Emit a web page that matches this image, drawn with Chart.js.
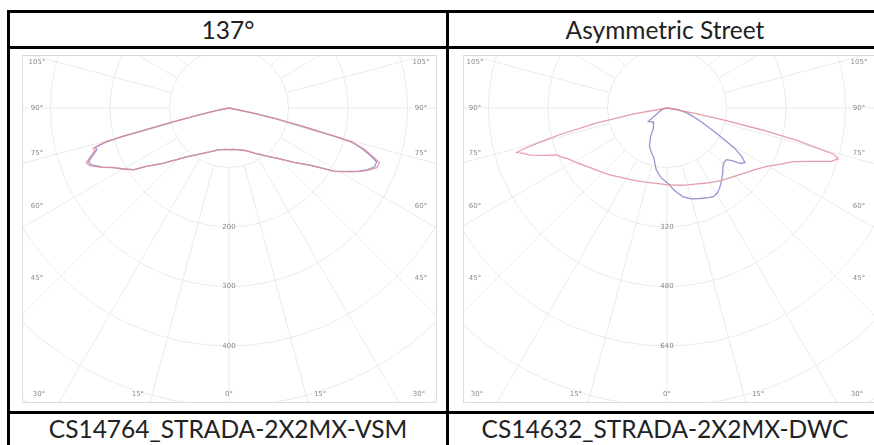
<!DOCTYPE html>
<html>
<head>
<meta charset="utf-8">
<script src="https://cdn.jsdelivr.net/npm/chart.js@4.4.1/dist/chart.umd.min.js"></script>
<style>
  html, body { margin: 0; padding: 0; background: #fff; }
  body { width: 874px; height: 445px; overflow: hidden; position: relative; font-family: Lato, 'Open Sans', sans-serif; }
  .rule { position: absolute; background: #000; }
  .txt { position: absolute; text-align: center; color: #222; font-size: 24.5px; line-height: 24.5px; white-space: nowrap; }
  .plot { position: absolute; box-sizing: border-box; border: 1px solid #dcdcdc; background: #fff; overflow: hidden; }
  .plot div { position: relative; width: 100%; height: 100%; }
</style>
</head>
<body>
  <!-- table rules -->
  <div class="rule" style="left:7px; top:10px; width:880px; height:3px"></div>
  <div class="rule" style="left:7px; top:46px; width:880px; height:3px"></div>
  <div class="rule" style="left:7px; top:411px; width:880px; height:3px"></div>
  <div class="rule" style="left:7px; top:10px; width:3px; height:440px"></div>
  <div class="rule" style="left:446px; top:10px; width:3px; height:440px"></div>

  <div class="txt" style="left:10px; top:17.5px; width:436px">137°</div>
  <div class="txt" style="left:449px; top:17.5px; width:432px">Asymmetric Street</div>
  <div class="txt" style="left:10px; top:416.5px; width:436px">CS14764_STRADA-2X2MX-VSM</div>
  <div class="txt" style="left:449px; top:416.5px; width:432px">CS14632_STRADA-2X2MX-DWC</div>

  <div class="plot" style="left:22px; top:55px; width:415px; height:348px"><div><canvas id="polarLeft"></canvas></div></div>
  <div class="plot" style="left:463px; top:55px; width:414px; height:348px"><div><canvas id="polarRight"></canvas></div></div>

<script>
// photometric angle ticks (degrees from nadir)
const angleTicks = [0, 15, 30, 45, 60, 75, 90, 105];

// 137° optic, cd values
const leftRings = [100, 200, 300, 400, 500, 600];
const leftRingLabels = ['', '200', '300', '400', '', ''];
const leftAngles = [-80, -78, -77, -76, -75, -74.5, -73.5, -72.5, -71, -69, -67.5, -65, -63, -60, -57, -55, -50, -45, -40, -35,
  -30, -25, -20, -15, -10, -5, 0, 5, 10, 15, 20, 25, 30, 35, 40, 45, 50, 55, 59, 62,
  64, 66, 68, 70, 71.5, 73, 74.5, 75, 76, 77, 78, 80];
const leftC0 = [0, 22, 50, 100, 190, 218, 238, 236, 245, 257, 253, 236, 221, 205, 191, 172, 145, 122, 106, 96,
  88, 82, 77, 73, 71, 70, 70, 70, 71, 73, 76, 81, 88, 96, 107, 121, 142, 168, 207, 229,
  244, 257, 268, 269, 254, 238, 216, 186, 128, 80, 42, 0];
const leftC90 = [0, 22, 50, 100, 188, 216, 234, 233, 241, 253, 250, 235, 220, 205, 190, 172, 145, 122, 106, 96,
  88, 82, 77, 73, 71, 70, 70, 70, 71, 73, 76, 81, 88, 96, 107, 121, 142, 168, 206, 227,
  242, 255, 264, 264, 250, 234, 214, 184, 127, 80, 42, 0];

// asymmetric street optic
const rightRings = [160, 320, 480, 640, 800, 960];
const rightRingLabels = ['', '320', '480', '640', '', ''];
const rightC0Angles = [-82, -80, -78, -76, -75, -74, -73.5, -72.5, -71, -69, -67, -65, -63, -60, -55, -50, -45, -40, -35, -30,
  -25, -20, -15, -10, -5, 0, 5, 10, 15, 20, 25, 30, 35, 40, 45, 50, 55, 60, 63, 67,
  70, 72, 73.5, 74.5, 76, 77, 78, 79, 80];
const rightC0 = [0, 90, 195, 300, 350, 405, 421, 405, 389, 355, 322, 312, 300, 288, 270, 256, 245, 236, 226, 219,
  214, 210, 207, 205, 205, 206, 208, 211, 214, 218, 224, 232, 240, 249, 259, 272, 289, 313, 335, 369,
  420, 465, 480, 465, 360, 260, 160, 80, 0];
const rightC90Angles = [-90, -75, -65, -58, -54, -50, -45, -40, -35, -30, -25, -20, -15, -10, -5, 0, 5, 10, 15, 20,
  25, 28, 31, 34, 37, 40, 43, 46, 49, 51, 53, 55, 57, 59, 61, 64, 68, 72, 76, 82, 90];
const rightC90 = [0, 12, 22, 38, 62, 58, 52, 55, 65, 88, 112, 125, 138, 168, 188, 200, 222, 242, 253, 259,
  266, 269, 265, 255, 244, 232, 220, 212, 212, 225, 248, 256, 240, 215, 180, 135, 100, 75, 55, 28, 0];

const RED = 'rgba(226, 140, 156, 0.85)';
const BLUE = 'rgba(134, 130, 200, 0.85)';

function toXY(angles, values) {
  return angles.map((a, i) => {
    const t = a * Math.PI / 180;
    return { x: values[i] * Math.sin(t), y: values[i] * Math.cos(t) };
  });
}

// grid circles, spokes and labels around the luminaire centre
const polarGrid = {
  id: 'polarGrid',
  beforeDatasetsDraw(chart, args, opts) {
    const { ctx, chartArea: a, scales: { x, y } } = chart;
    const cx = x.getPixelForValue(0), cy = y.getPixelForValue(0);
    const k = Math.abs(x.getPixelForValue(1) - cx);
    ctx.save();
    ctx.beginPath();
    ctx.rect(a.left, a.top, a.width, a.height);
    ctx.clip();
    ctx.strokeStyle = '#ebebeb';
    ctx.lineWidth = 1;
    opts.rings.forEach(v => {
      ctx.beginPath();
      ctx.arc(cx, cy, v * k, 0, Math.PI * 2);
      ctx.stroke();
    });
    const r0 = opts.rings[0] * k;
    for (let g = 0; g < 360; g += 15) {
      const s = Math.sin(g * Math.PI / 180), c = Math.cos(g * Math.PI / 180);
      ctx.beginPath();
      ctx.moveTo(cx + r0 * s, cy + r0 * c);
      ctx.lineTo(cx + 1000 * s, cy + 1000 * c);
      ctx.stroke();
    }

    ctx.fillStyle = '#8a8a8a';
    ctx.font = '7px "DejaVu Sans", sans-serif';
    ctx.textAlign = 'center';
    ctx.textBaseline = 'middle';
    opts.rings.forEach((v, i) => {
      if (opts.ringLabels[i]) ctx.fillText(opts.ringLabels[i], cx, cy + v * k);
    });
    angleTicks.forEach(g => {
      const t = g * Math.PI / 180;
      if (g >= 45) {
        const yy = cy + 170 * Math.cos(t) / Math.sin(t);
        ctx.fillText(g + '°', cx - 192, yy);
        ctx.fillText(g + '°', cx + 192, yy);
      } else {
        const dx = Math.min(340 * Math.tan(t), 190);
        ctx.fillText(g + '°', cx - dx, cy + 286);
        if (g > 0) ctx.fillText(g + '°', cx + dx, cy + 286);
      }
    });
    ctx.restore();
  }
};

function makePanel(id, centre, pxPerCd, rings, ringLabels, series) {
  const canvas = document.getElementById(id);
  const box = canvas.parentNode.getBoundingClientRect();
  const W = box.width, H = box.height;
  return new Chart(canvas, {
    type: 'scatter',
    data: {
      datasets: series.map(s => ({
        data: toXY(s.angles, s.values),
        showLine: true,
        borderColor: s.color,
        borderWidth: 1.3,
        pointRadius: 0,
        tension: 0,
        fill: false,
      })),
    },
    options: {
      responsive: true,
      maintainAspectRatio: false,
      animation: false,
      layout: { padding: 0 },
      plugins: {
        legend: { display: false },
        tooltip: { enabled: false },
        polarGrid: { rings: rings, ringLabels: ringLabels },
      },
      scales: {
        x: { type: 'linear', display: false, min: -centre.x / pxPerCd, max: (W - centre.x) / pxPerCd },
        y: { type: 'linear', display: false, reverse: true, min: -centre.y / pxPerCd, max: (H - centre.y) / pxPerCd },
      },
    },
    plugins: [polarGrid],
  });
}

makePanel('polarLeft', { x: 206, y: 52 }, 0.595, leftRings, leftRingLabels, [
  { angles: leftAngles, values: leftC0, color: RED },
  { angles: leftAngles, values: leftC90, color: BLUE },
]);
makePanel('polarRight', { x: 203, y: 52 }, 59.5 / 160, rightRings, rightRingLabels, [
  { angles: rightC0Angles, values: rightC0, color: RED },
  { angles: rightC90Angles, values: rightC90, color: BLUE },
]);
</script>
</body>
</html>
